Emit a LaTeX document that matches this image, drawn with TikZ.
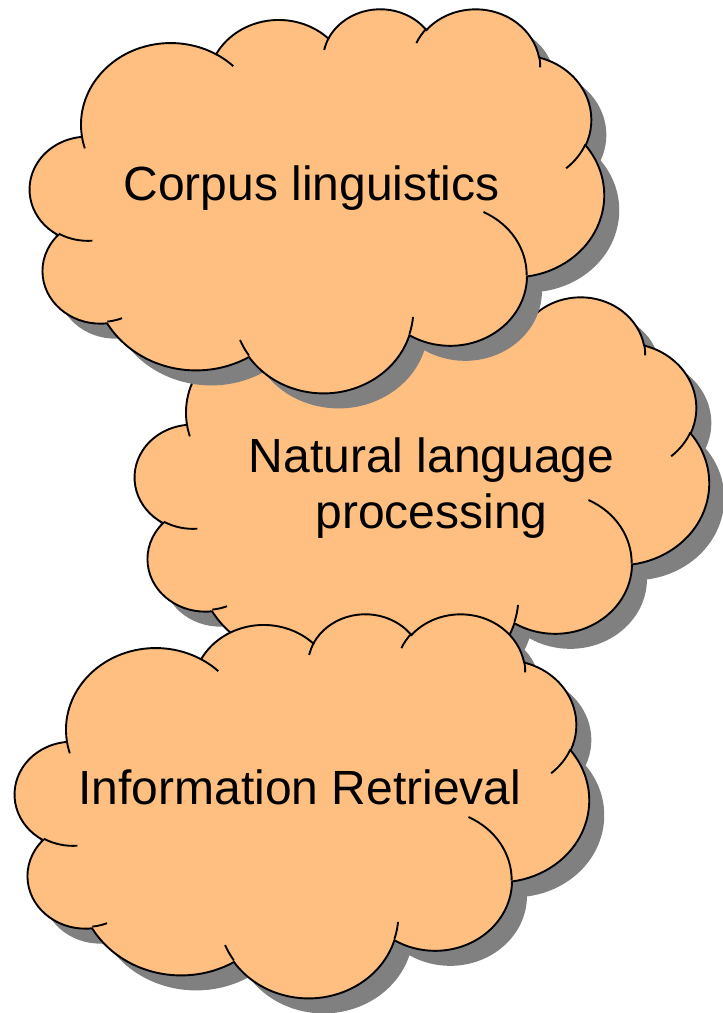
\documentclass[tikz,border=0pt]{standalone}
\usepackage{fontspec}
\setmainfont{Liberation Sans}
\definecolor{cloudfill}{RGB}{255,191,128}
\definecolor{shadowgray}{RGB}{128,128,128}
% elliptical arc with "visual" angles (DrawingML arcTo): rx, ry, start, sweep
\newcommand\oa[4]{\pgfextra{%
  \pgfmathsetmacro\oats{atan2((#1)*sin(#3),(#2)*cos(#3))}%
  \pgfmathsetmacro\oate{atan2((#1)*sin((#3)+(#4)),(#2)*cos((#3)+(#4)))}%
  \pgfmathsetmacro\oadd{(\oate)-(\oats)}%
  \pgfmathsetmacro\oadd{(\oadd)+360*round(((#4)-(\oadd))/360)}%
  \global\let\oats\oats\global\let\oadd\oadd}%
  arc[start angle=\oats, delta angle=\oadd, x radius=#1, y radius=#2]}
\newcommand\cloudouter{(39.00,143.70)
  \oa{67.53}{91.90}{-190.48748}{123.78053}
  \oa{53.33}{72.67}{-144.10238}{89.94523}
  \oa{43.65}{59.45}{-145.80792}{99.72302}
  \oa{48.57}{65.95}{-130.98607}{117.24173}
  \oa{53.33}{72.73}{-78.70888}{109.02692}
  \oa{67.75}{92.20}{-46.26725}{130.26900}
  \oa{57.85}{78.67}{0.62502}{114.03333}
  \oa{67.52}{92.15}{22.45160}{115.17255}
  \oa{77.20}{105.43}{66.24263}{75.71102}
  \oa{43.60}{59.18}{-274.94208}{146.73557}
  \oa{43.45}{59.45}{-246.82850}{152.51885} -- cycle}
\newcommand\cloudinner{%
  (46.93,261.77) \oa{43.45}{59.45}{86.742}{26.4295}
  (69.28,348.99) \oa{43.60}{59.18}{73.61047}{11.44747}
  (164.78,390.90) \oa{67.52}{92.15}{137.62415}{14.0811}
  (288.27,347.51) \oa{67.52}{92.15}{6.45327}{15.99835}
  (341.29,229.54) \oa{57.85}{78.67}{-70.29235}{70.91737}
  (417.98,153.54) \oa{53.33}{72.73}{30.31803}{27.7515}
  (383.24,54.26) \oa{48.57}{65.95}{-13.74433}{14.8589}
  (290.78,39.52) \oa{48.57}{65.95}{-149.18145}{18.19537}
  (221.41,47.20) \oa{43.65}{59.45}{-163.49427}{17.68635}
  (140.00,51.92) \oa{67.53}{91.90}{-66.70695}{12.31935}
  (41.27,157.89) \oa{67.53}{91.90}{157.65435}{11.85817}}
\newcommand\cloudat[2]{%
  \begin{scope}[shift={(#1+15,#2+15)}, xscale=574/432, yscale=384/432]
    \fill[shadowgray] \cloudouter;
  \end{scope}
  \begin{scope}[shift={(#1,#2)}, xscale=574/432, yscale=384/432]
    \filldraw[cloudstyle] \cloudouter;
    \draw[cloudline] \cloudinner;
  \end{scope}}
\begin{document}
\begin{tikzpicture}[x=1pt,y=-1pt,
  cloudstyle/.style={fill=cloudfill, draw=black, line width=1.9pt},
  cloudline/.style={draw=black, line width=1.9pt},
  txt/.style={font=\fontsize{48}{56}\selectfont, inner sep=0pt, text=black}]
  \useasboundingbox (0,0) rectangle (723,1013);
  \cloudat{135}{296}
  \node[txt, align=center, anchor=base] (nlp) at (431.5,528) {Natural language\\processing};
  \cloudat{15}{613}
  \node[txt, anchor=base] (ir) at (300,804) {Information Retrieval};
  \cloudat{30}{8}
  \node[txt, anchor=base] (corpus) at (311.5,200) {Corpus linguistics};
\end{tikzpicture}
\end{document}
